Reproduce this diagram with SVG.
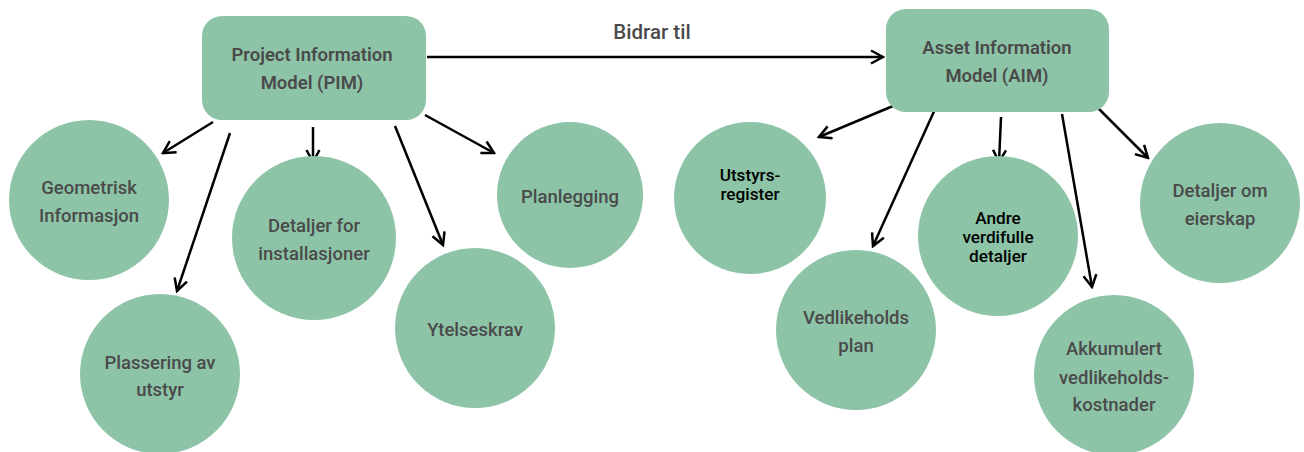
<svg xmlns="http://www.w3.org/2000/svg" width="1304" height="452" viewBox="0 0 1304 452">
<style>
.n{fill:#8dc4a8}
.t{font-family:Roboto,"Liberation Sans",sans-serif;font-weight:500;font-size:18.5px;fill:#4a4a4a;text-anchor:middle}
.tb{font-family:Roboto,"Liberation Sans",sans-serif;font-weight:600;font-size:18.5px;fill:#4a4a4a;text-anchor:middle}
.tk{font-family:Roboto,"Liberation Sans",sans-serif;font-weight:500;font-size:17.2px;fill:#000;text-anchor:middle}
.lbl{font-family:Roboto,"Liberation Sans",sans-serif;font-weight:500;font-size:20.5px;fill:#4a4a4a;text-anchor:middle}
.c{stroke:#000;stroke-width:2.5;fill:none;marker-end:url(#ah)}
</style>
<defs>
<marker id="ah" viewBox="0 0 16 16" refX="14" refY="8" markerWidth="16" markerHeight="16" markerUnits="userSpaceOnUse" orient="auto">
<path d="M2,1.5 L14,8 L2,14.5" fill="none" stroke="#000" stroke-width="2.5"/>
</marker>
</defs>
<rect width="1304" height="452" fill="#fff"/>
<g id="connectors">
<line class="c" x1="427" y1="57" x2="883" y2="57"/>
<line class="c" x1="213" y1="122" x2="163" y2="153"/>
<line class="c" x1="230" y1="133" x2="177" y2="291"/>
<line class="c" x1="313" y1="127" x2="313" y2="162"/>
<line class="c" x1="395" y1="126" x2="443" y2="245"/>
<line class="c" x1="425" y1="115" x2="494" y2="153"/>
<line class="c" x1="893" y1="106" x2="819" y2="137"/>
<line class="c" x1="936" y1="107" x2="873" y2="246"/>
<line class="c" x1="1001" y1="117" x2="999" y2="162"/>
<line class="c" x1="1062" y1="114" x2="1092" y2="287"/>
<line class="c" x1="1098" y1="108" x2="1148" y2="158"/>
</g>
<text class="lbl" x="652" y="39">Bidrar til</text>
<g id="pim">
<rect class="n" x="202" y="16" width="224" height="104" rx="20"/>
<text class="tb" x="312" y="61">Project Information</text>
<text class="tb" x="312" y="89">Model (PIM)</text>
</g>
<g id="aim">
<rect class="n" x="886" y="9" width="223" height="103" rx="20"/>
<text class="tb" x="997" y="54">Asset Information</text>
<text class="tb" x="997" y="82">Model (AIM)</text>
</g>
<g id="geometrisk">
<circle class="n" cx="89" cy="200" r="80"/>
<text class="t" x="89" y="194">Geometrisk</text>
<text class="t" x="89" y="222">Informasjon</text>
</g>
<g id="plassering">
<circle class="n" cx="160" cy="374" r="80"/>
<text class="t" x="160" y="369">Plassering av</text>
<text class="t" x="160" y="396">utstyr</text>
</g>
<g id="detaljer-for">
<circle class="n" cx="314" cy="238" r="82"/>
<text class="t" x="314" y="232">Detaljer for</text>
<text class="t" x="314" y="260">installasjoner</text>
</g>
<g id="ytelseskrav">
<circle class="n" cx="475" cy="328" r="80"/>
<text class="t" x="475" y="336">Ytelseskrav</text>
</g>
<g id="planlegging">
<circle class="n" cx="570" cy="195" r="73"/>
<text class="t" x="570" y="203">Planlegging</text>
</g>
<g id="utstyrsregister">
<circle class="n" cx="750" cy="198" r="76"/>
<text class="tk" x="750" y="181">Utstyrs-</text>
<text class="tk" x="750" y="200">register</text>
</g>
<g id="vedlikeholdsplan">
<circle class="n" cx="856" cy="330" r="80"/>
<text class="t" x="856" y="324">Vedlikeholds</text>
<text class="t" x="856" y="352">plan</text>
</g>
<g id="andre">
<circle class="n" cx="998" cy="236" r="80"/>
<text class="tk" x="998" y="224">Andre</text>
<text class="tk" x="998" y="243">verdifulle</text>
<text class="tk" x="998" y="262">detaljer</text>
</g>
<g id="akkumulert">
<circle class="n" cx="1114" cy="375" r="80"/>
<text class="t" x="1114" y="355">Akkumulert</text>
<text class="t" x="1114" y="384">vedlikeholds-</text>
<text class="t" x="1114" y="411">kostnader</text>
</g>
<g id="eierskap">
<circle class="n" cx="1220" cy="203" r="80"/>
<text class="t" x="1220" y="197">Detaljer om</text>
<text class="t" x="1220" y="225">eierskap</text>
</g>
</svg>
